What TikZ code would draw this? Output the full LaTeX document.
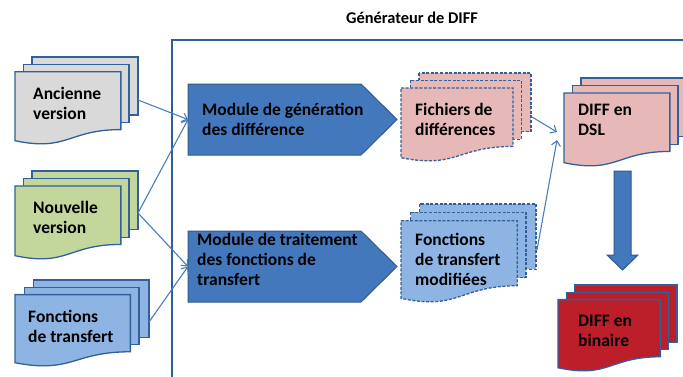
\documentclass[tikz,border=0pt]{standalone}
\usepackage{fontspec}
\setmainfont{Carlito}
\usetikzlibrary{arrows.meta}
\definecolor{docborder}{HTML}{31609A}
\definecolor{gray1}{HTML}{D9D9D9}
\definecolor{green1}{HTML}{C3D69B}
\definecolor{lblue}{HTML}{8EB4E3}
\definecolor{pink1}{HTML}{E6B9B8}
\definecolor{dred}{HTML}{BC1F2A}
\definecolor{modblue}{HTML}{4478BD}
\definecolor{modborder}{HTML}{2F5A8C}
\definecolor{connblue}{HTML}{4A7EBB}
\definecolor{framecol}{HTML}{2F5F95}
\newcommand{\mdoc}[6]{%
  \draw[docline,#6,fill=#5] ({#1+0.1376*(#3)},{#2}) rectangle ({#1+(#3)},{#2+0.6663*(#4)});
  \draw[docline,#6,fill=#5] ({#1+0.0709*(#3)},{#2+0.0840*(#4)}) rectangle ({#1+0.9259*(#3)},{#2+0.7524*(#4)});
  \draw[docline,#6,fill=#5] ({#1},{#2+0.1701*(#4)}) -- ({#1+0.8609*(#3)},{#2+0.1701*(#4)})
     -- ({#1+0.8609*(#3)},{#2+0.8344*(#4)})
     .. controls ({#1+0.4305*(#3)},{#2+0.8344*(#4)}) and ({#1+0.4305*(#3)},{#2+1.0899*(#4)}) .. ({#1},{#2+0.9621*(#4)}) -- cycle;
}
\begin{document}
\begin{tikzpicture}[x=1pt,y=-1pt,
  docline/.style={draw=docborder,line width=1.3pt,line join=miter},
  dashdoc/.style={dash pattern=on 3pt off 1.6pt},
  txt/.style={font=\bfseries\fontsize{17.5}{20}\selectfont,align=left,inner sep=0pt,anchor=base west,text=black},
  ttl/.style={font=\bfseries\fontsize{16.4}{20}\selectfont,inner sep=0pt,anchor=base,text=black},
  conn/.style={draw=connblue,line width=1.1pt,-{Straight Barb[length=5pt,width=9pt,line width=1.1pt]}},
  modshape/.style={fill=modblue,draw=modborder,line width=1pt},
  frameline/.style={draw=framecol,line width=1.4pt}]
\useasboundingbox (0,0) rectangle (683,376);
\fill[white] (0,0) rectangle (683,376);
% frame
\draw[frameline] (700,40) -- (172,40) -- (172,390);
\node[ttl] (title) at (412,23) {Générateur de DIFF};
% documents
\mdoc{15}{57}{123}{87}{gray1}{}
\mdoc{15}{171}{123}{88}{green1}{}
\mdoc{15}{280}{134}{86}{lblue}{}
\mdoc{401}{73}{130}{88}{pink1}{dashdoc}
\mdoc{401}{204}{135}{98}{lblue}{dashdoc}
\mdoc{564}{78}{123}{88}{pink1}{}
\mdoc{558}{285}{119}{86}{dred}{}
% modules
\draw[modshape] (188,84) -- (361,84) -- (397,119.5) -- (361,155) -- (188,155) -- cycle;
\draw[modshape] (188,231) -- (361,231) -- (397,266.5) -- (361,302) -- (188,302) -- cycle;
% down arrow
\draw[modshape] (614,171) -- (631,171) -- (631,255) -- (638,255) -- (622.5,270) -- (607,255) -- (614,255) -- cycle;
% texts (anchor = baseline of the last line)
\node[txt] (anc) at (33,119) {Ancienne\\version};
\node[txt] (nouv) at (33,233) {Nouvelle\\version};
\node[txt] (fonc) at (28,342) {Fonctions\\de transfert};
\node[txt] (mod1) at (202,135) {Module de génération\\des différence};
\node[txt] (mod2) at (197,285) {Module de traitement\\des fonctions de\\transfert};
\node[txt] (fich) at (415,135) {Fichiers de\\différences};
\node[txt] (fmod) at (415,285) {Fonctions\\de transfert\\modifiées};
\node[txt] (dsl) at (578,135) {DIFF en\\DSL};
\node[txt] (bin) at (578,346) {DIFF en\\binaire};
% connection points
\coordinate (anc-e) at (138,100);
\coordinate (nouv-e) at (138,213);
\coordinate (fonc-e) at (149,322);
\coordinate (mod1-w) at (188,119.5);
\coordinate (mod2-w) at (188,266.5);
\coordinate (fich-e) at (532,117);
\coordinate (fmod-e) at (537,250);
\coordinate (dsl-w1) at (557,132);
\coordinate (dsl-w2) at (557,140);
\draw[conn] (anc-e) -- (mod1-w);
\draw[conn] (nouv-e) -- (mod1-w);
\draw[conn] (nouv-e) -- (mod2-w);
\draw[conn] (fonc-e) -- (mod2-w);
\draw[conn] (fich-e) -- (dsl-w1);
\draw[conn] (fmod-e) -- (dsl-w2);
\end{tikzpicture}
\end{document}
